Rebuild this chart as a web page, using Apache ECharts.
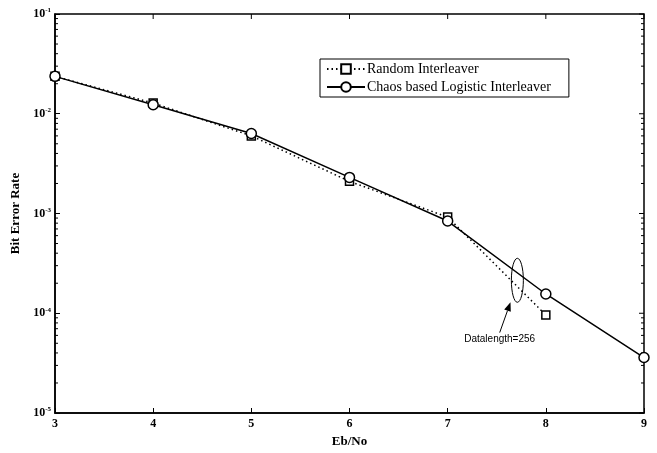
<!DOCTYPE html>
<html><head><meta charset="utf-8">
<script src="https://cdn.jsdelivr.net/npm/echarts@6/dist/echarts.min.js"></script>
<style>html,body{margin:0;padding:0;background:#fff}#c{width:657px;height:453px}</style>
</head><body><div id="c"></div>
<script>
const ebno = [3, 4, 5, 6, 7, 8, 9];
const randomBER = [0.0237, 0.0128, 0.0060, 0.0021, 0.00092, 0.000096, null];
const chaosBER = [0.0237, 0.0123, 0.00634, 0.0023, 0.00084, 0.000156, 0.000036];
const xTicks = [3, 4, 5, 6, 7, 8, 9];
const yExponents = [-5, -4, -3, -2, -1];
const minorVals = [];
for (let e = -5; e < -1; e++) for (let m = 2; m <= 9; m++) minorVals.push(m * Math.pow(10, e));
const seriesNames = ['Random Interleaver', 'Chaos based Logistic Interleaver'];
const annotText = 'Datalength=256';

const serif = '"Liberation Serif", "Times New Roman", serif';
const chart = echarts.init(document.getElementById('c'));
const randPairs = ebno.map((x, i) => [x, randomBER[i]]).filter(p => p[1] != null);
const chaosPairs = ebno.map((x, i) => [x, chaosBER[i]]);

chart.setOption({
  animation: false,
  backgroundColor: '#fff',
  grid: { left: 55, right: 13, top: 14, bottom: 36, show: true, borderColor: '#000', borderWidth: 1.5 },
  legend: {
    left: 320, top: 59, orient: 'vertical', itemGap: 4, itemWidth: 38, itemHeight: 12,
    padding: [3, 18, 3, 6],
    borderColor: '#000', borderWidth: 1, backgroundColor: '#fff',
    textStyle: { fontFamily: serif, fontSize: 14, color: '#000', padding: [0, 0, 0, -3] },
    data: seriesNames
  },
  xAxis: {
    type: 'value', min: 3, max: 9, interval: 1,
    name: 'Eb/No', nameLocation: 'middle', nameGap: 22,
    nameTextStyle: { fontFamily: serif, fontWeight: 'bold', fontSize: 13, color: '#000' },
    axisLine: { lineStyle: { color: '#000', width: 1.5 } },
    axisTick: { inside: true, length: 5, lineStyle: { color: '#000' } },
    axisLabel: { fontFamily: serif, fontWeight: 'bold', fontSize: 12, color: '#000', margin: 5,
      formatter: v => xTicks.includes(v) ? String(v) : '' },
    splitLine: { show: false }
  },
  yAxis: {
    type: 'log', min: 1e-5, max: 1e-1, logBase: 10,
    name: 'Bit Error Rate', nameLocation: 'middle', nameGap: 32, nameRotate: 90,
    nameTextStyle: { fontFamily: serif, fontWeight: 'bold', fontSize: 13, color: '#000' },
    axisLine: { lineStyle: { color: '#000', width: 1.5 } },
    axisTick: { inside: true, length: 5, lineStyle: { color: '#000' } },
    axisLabel: {
      margin: 4,
      formatter: v => { const e = Math.round(Math.log10(v)); return yExponents.includes(e) ? '{b|10}{s|' + e + '}' : ''; },
      rich: {
        b: { fontFamily: serif, fontWeight: 'bold', fontSize: 12, color: '#000' },
        s: { fontFamily: serif, fontWeight: 'bold', fontSize: 7, color: '#000', verticalAlign: 'top', padding: [0, 0, 7, 0] }
      }
    },
    splitLine: { show: false }
  },
  series: [
    {
      name: 'minor', type: 'custom', silent: true, legendHoverLink: false,
      data: minorVals.map(v => [3, v]),
      renderItem: (params, api) => {
        const p = api.coord([3, api.value(1)]);
        const r = api.coord([9, api.value(1)]);
        return { type: 'group', children: [
          { type: 'line', shape: { x1: p[0], y1: p[1], x2: p[0] + 3, y2: p[1] }, style: { stroke: '#000', lineWidth: 1 } },
          { type: 'line', shape: { x1: r[0], y1: r[1], x2: r[0] - 3, y2: r[1] }, style: { stroke: '#000', lineWidth: 1 } }
        ] };
      },
      z: 1
    },
    {
      name: 'majorMirror', type: 'custom', silent: true,
      data: yExponents.map(e => [9, Math.pow(10, e)]).concat(xTicks.map(x => [x, 0.1])),
      renderItem: (params, api) => {
        const p = api.coord([api.value(0), api.value(1)]);
        const isY = params.dataIndex < yExponents.length;
        return isY
          ? { type: 'line', shape: { x1: p[0], y1: p[1], x2: p[0] - 5, y2: p[1] }, style: { stroke: '#000', lineWidth: 1 } }
          : { type: 'line', shape: { x1: p[0], y1: p[1], x2: p[0], y2: p[1] + 5 }, style: { stroke: '#000', lineWidth: 1 } };
      },
      z: 1
    },
    {
      name: seriesNames[0], type: 'line', data: randPairs,
      symbol: 'rect', symbolSize: 8,
      lineStyle: { color: '#000', width: 1.5, type: [1.5, 3] },
      itemStyle: { color: '#fff', borderColor: '#000', borderWidth: 1.5 },
      z: 3
    },
    {
      name: seriesNames[1], type: 'line', data: chaosPairs,
      symbol: 'circle', symbolSize: 10,
      lineStyle: { color: '#000', width: 1.5, type: 'solid' },
      itemStyle: { color: '#fff', borderColor: '#000', borderWidth: 1.5 },
      z: 4
    }
  ]
});

// annotation placed through the axis scales
const c = chart.convertToPixel({ gridIndex: 0 }, [7.71, 2.14e-4]);
const tip = chart.convertToPixel({ gridIndex: 0 }, [7.64, 1.29e-4]);
const tail = chart.convertToPixel({ gridIndex: 0 }, [7.53, 6.4e-5]);
const ang = Math.atan2(tip[1] - tail[1], tip[0] - tail[0]);
const hl = 9, hw = 3.5;
const hx = tip[0] - hl * Math.cos(ang), hy = tip[1] - hl * Math.sin(ang);
chart.setOption({
  graphic: [
    { type: 'ellipse', shape: { cx: c[0], cy: c[1], rx: 6, ry: 22 }, style: { fill: null, stroke: '#000', lineWidth: 1 }, z: 10 },
    { type: 'line', shape: { x1: tail[0], y1: tail[1], x2: hx, y2: hy }, style: { stroke: '#000', lineWidth: 1 }, z: 10 },
    { type: 'polygon', shape: { points: [tip, [hx + hw * Math.sin(ang), hy - hw * Math.cos(ang)], [hx - hw * Math.sin(ang), hy + hw * Math.cos(ang)]] }, style: { fill: '#000' }, z: 10 },
    { type: 'text', x: tail[0], y: tail[1] + 2, style: { text: annotText, fontFamily: '"Liberation Sans", Arial, sans-serif', fontSize: 10, fill: '#000', align: 'center', verticalAlign: 'top' }, z: 10 }
  ]
});
</script></body></html>
